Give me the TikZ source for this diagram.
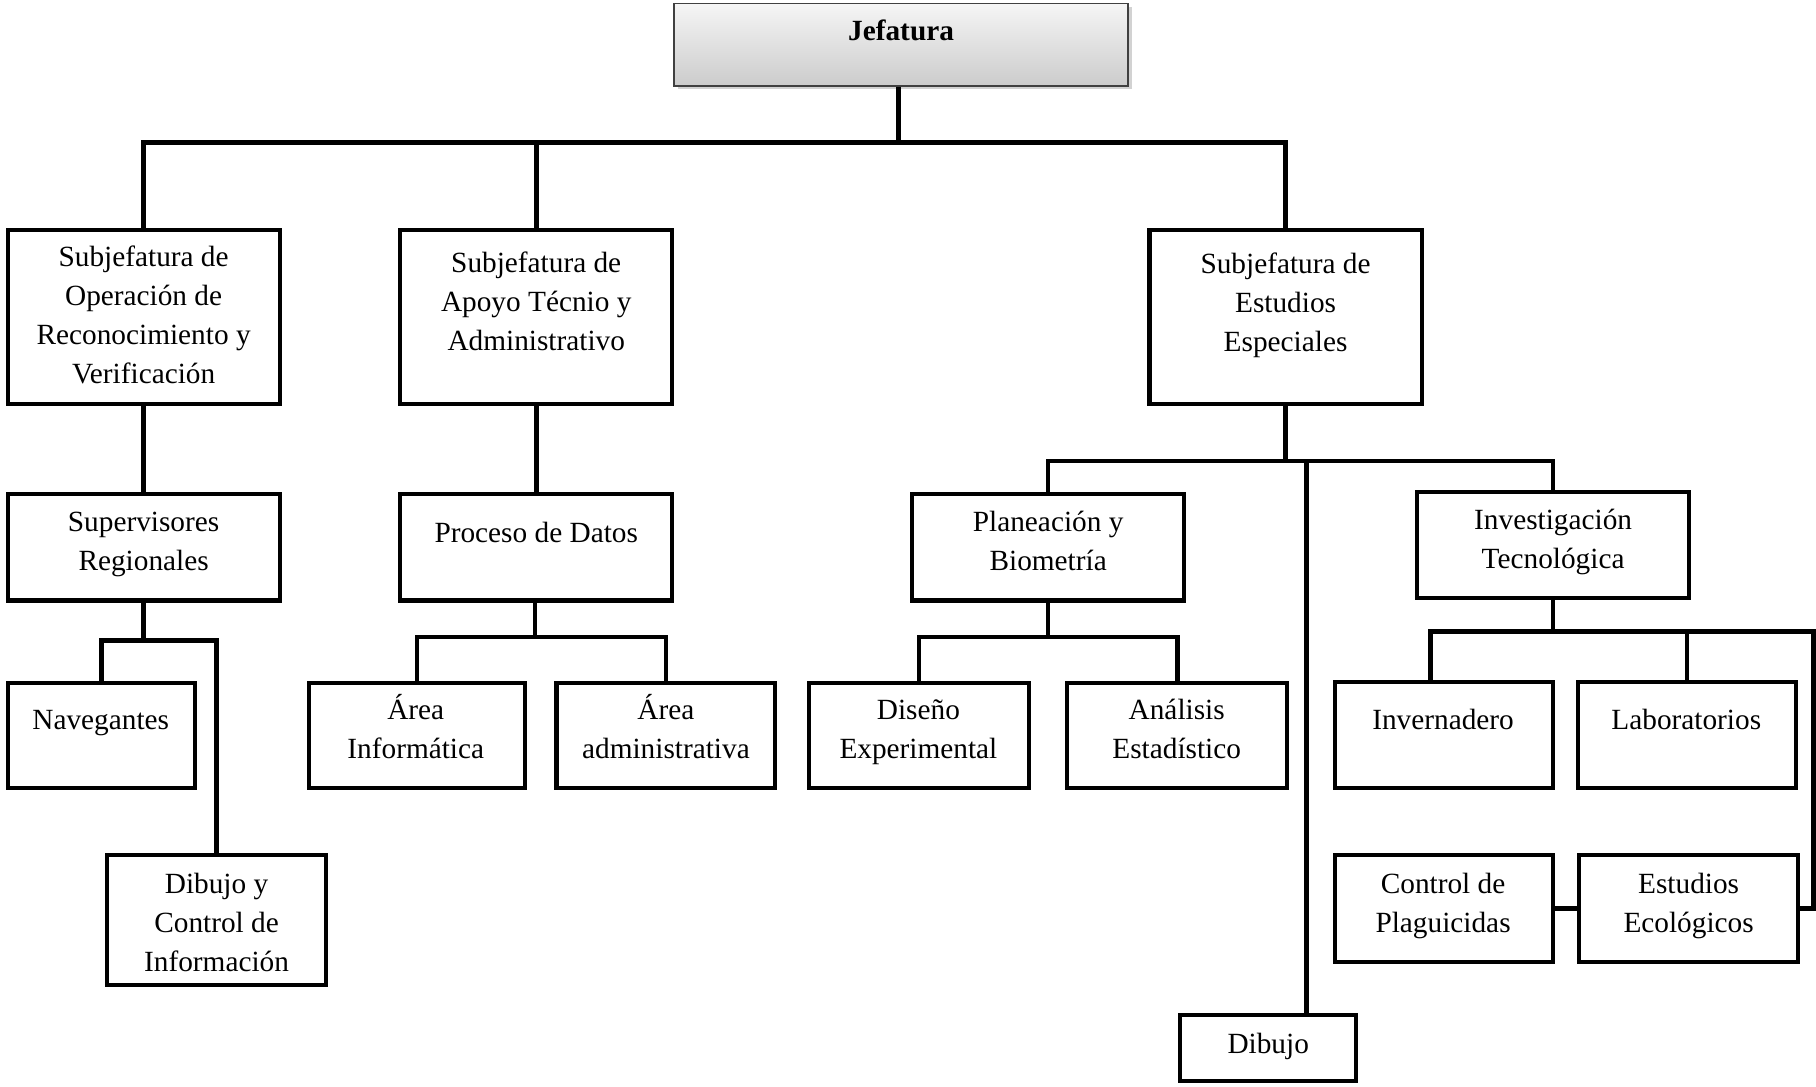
\documentclass[tikz,border=0pt]{standalone}
\usepackage{fontspec}
\setmainfont{Liberation Serif}
\usetikzlibrary{shadows}
\begin{document}
\begin{tikzpicture}[x=1pt,y=-1pt,
  box/.style={draw=black,line width=3.5pt,inner sep=0pt,fill=white},
  conn/.style={draw=black,line width=4pt},
  txt/.style={anchor=north,align=center,inner sep=0pt,font=\fontsize{25.3pt}{33.7pt}\selectfont},
  jefbox/.style={draw=black!75,line width=1.6pt,inner sep=0pt,top color=gray!8,bottom color=gray!40,
    drop shadow={shadow xshift=3pt,shadow yshift=-3pt,opacity=0.35}}]
\useasboundingbox (0,0) rectangle (1568,938);
\fill[white] (0,0) rectangle (1568,938);

% boxes
\node[jefbox,minimum width=392pt,minimum height=71pt] (jef) at (778,38.5) {};
\node[box,minimum width=235pt,minimum height=150pt] (s1) at (124,273.5) {};
\node[box,minimum width=235pt,minimum height=150pt] (s2) at (463,273.5) {};
\node[box,minimum width=235pt,minimum height=150pt] (s3) at (1110,273.5) {};
\node[box,minimum width=235pt,minimum height=92pt] (sup) at (124,472.5) {};
\node[box,minimum width=235pt,minimum height=92pt] (pro) at (463,472.5) {};
\node[box,minimum width=162pt,minimum height=91pt] (nav) at (87.5,635) {};
\node[box,minimum width=189pt,minimum height=112pt] (dib1) at (187,794.5) {};
\node[box,minimum width=187pt,minimum height=91pt] (ai) at (360,635) {};
\node[box,minimum width=189pt,minimum height=91pt] (aa) at (575,635) {};
\node[box,minimum width=235pt,minimum height=92pt] (pla) at (905,472.5) {};
\node[box,minimum width=235pt,minimum height=92pt] (inv) at (1341,470.5) {};
\node[box,minimum width=190pt,minimum height=91pt] (dis) at (793.5,635) {};
\node[box,minimum width=190pt,minimum height=91pt] (ana) at (1016.5,635) {};
\node[box,minimum width=152pt,minimum height=57pt] (dib2) at (1094.5,905) {};
\node[box,minimum width=188pt,minimum height=92pt] (inver) at (1246.5,634.5) {};
\node[box,minimum width=188pt,minimum height=92pt] (lab) at (1456.5,634.5) {};
\node[box,minimum width=188pt,minimum height=92pt] (ctrl) at (1246.5,784.5) {};
\node[box,minimum width=189pt,minimum height=92pt] (est) at (1458,784.5) {};

% texts
\node[txt,font=\fontsize{25.3pt}{33.7pt}\selectfont\bfseries] (tjef) at (778,11.4) {\strut Jefatura};
\node[txt] (ts1) at (124,206.4) {\strut Subjefatura de\\\strut Operación de\\\strut Reconocimiento y\\\strut Verificación};
\node[txt] (ts2) at (463,211.4) {\strut Subjefatura de\\\strut Apoyo Técnio y\\\strut Administrativo};
\node[txt] (ts3) at (1110,212.4) {\strut Subjefatura de\\\strut Estudios\\\strut Especiales};
\node[txt] (tsup) at (124,435.4) {\strut Supervisores\\\strut Regionales};
\node[txt] (tpro) at (463,444.4) {\strut Proceso de Datos};
\node[txt] (tnav) at (87,606.4) {\strut Navegantes};
\node[txt] (tdib1) at (187,747.4) {\strut Dibujo y\\\strut Control de\\\strut Información};
\node[txt] (tai) at (359,597.4) {\strut Área\\\strut Informática};
\node[txt] (taa) at (575,597.4) {\strut Área\\\strut administrativa};
\node[txt] (tpla) at (905,435.4) {\strut Planeación y\\\strut Biometría};
\node[txt] (tinv) at (1341,433.4) {\strut Investigación\\\strut Tecnológica};
\node[txt] (tdis) at (793,597.4) {\strut Diseño\\\strut Experimental};
\node[txt] (tana) at (1016,597.4) {\strut Análisis\\\strut Estadístico};
\node[txt] (tdib2) at (1095,885.4) {\strut Dibujo};
\node[txt] (tinver) at (1246,606.4) {\strut Invernadero};
\node[txt] (tlab) at (1456,606.4) {\strut Laboratorios};
\node[txt] (tctrl) at (1246,747.4) {\strut Control de\\\strut Plaguicidas};
\node[txt] (test) at (1458,747.4) {\strut Estudios\\\strut Ecológicos};

% junction coordinates
\coordinate (bus) at (776,123);
\coordinate (supb) at (124,553);
\coordinate (prob) at (462,550);
\coordinate (s3b) at (1110,398);
\coordinate (djt) at (1128,398);
\coordinate (plab) at (905,550);
\coordinate (invb) at (1341,545);
\coordinate (invl) at (1235,545);
\coordinate (invr) at (1566,545);

% connectors
\draw[conn] (jef.south -| bus) -- (bus);
\draw[conn] (s1.north) -- (s1.north |- bus) -- (s3.north |- bus) -- (s3.north);
\draw[conn] (s2.north) -- (s2.north |- bus);
\draw[conn] (s1.south) -- (sup.north);
\draw[conn] (s2.south) -- (pro.north);
\draw[conn] (sup.south) -- (supb);
\draw[conn] (nav.north) -- (nav.north |- supb) -- (dib1.north |- supb) -- (dib1.north);
\draw[conn] (pro.south -| prob) -- (prob);
\draw[conn] (ai.north) -- (ai.north |- prob) -- (aa.north |- prob) -- (aa.north);
\draw[conn] (s3.south) -- (s3b);
\draw[conn] (pla.north) -- (pla.north |- s3b) -- (inv.north |- s3b) -- (inv.north);
\draw[conn] (djt) -- (djt |- dib2.north);
\draw[conn] (pla.south) -- (plab);
\draw[conn] (dis.north) -- (dis.north |- plab) -- (ana.north |- plab) -- (ana.north);
\draw[conn] (inv.south) -- (invb);
\draw[conn] (invl |- inver.north) -- (invl) -- (invr) |- (est.east);
\draw[conn] (lab.north) -- (lab.north |- invb);
\draw[conn] (ctrl.east) -- (est.west);
\end{tikzpicture}
\end{document}
